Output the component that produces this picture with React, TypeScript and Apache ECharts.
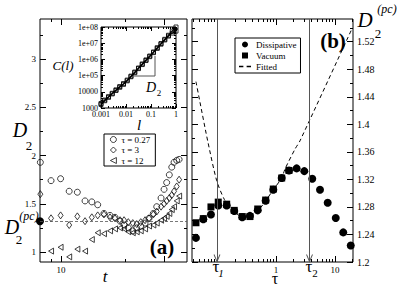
import React, { useEffect, useRef } from 'react';
import * as echarts from 'echarts';

const FONT = 'Liberation Serif';

// ---------- Panel (a): D2 versus t ----------
const tA = [6.3, 8.0, 9.9, 12.0, 14.4, 17.1, 19.9, 22.7, 26.1, 29.9, 33.4, 37.4, 40.9, 45.0, 49.7, 54.3, 59.4, 65.4, 71.5, 78.7, 84.9, 93.5, 100, 106, 112.5, 118.8, 125, 132.7, 140];
const d2Tau027 = [1.93, 1.74, 1.76, 1.63, 1.62, 1.53, 1.52, 1.49, 1.40, 1.38, 1.36, 1.32, 1.28, 1.25, 1.22, 1.25, 1.27, 1.30, 1.35, 1.40, 1.47, 1.56, 1.65, 1.72, 1.80, 1.88, 1.93, 1.95, 1.96];
const d2Tau3 = [1.60, 1.35, 1.38, 1.28, 1.37, 1.32, 1.36, 1.38, 1.39, 1.36, 1.35, 1.33, 1.33, 1.31, 1.30, 1.29, 1.31, 1.33, 1.35, 1.39, 1.42, 1.47, 1.50, 1.53, 1.56, 1.59, 1.63, 1.68, 1.75];
const d2Tau12 = [null, 1.01, 1.05, 0.95, 1.03, 1.01, 1.13, 1.20, 1.19, 1.22, 1.24, 1.25, 1.24, 1.21, 1.20, 1.21, 1.22, 1.24, 1.27, 1.28, 1.30, 1.33, 1.35, 1.37, 1.40, 1.44, 1.47, 1.53, 1.58];
const d2pc = 1.32;
const legendA = ['τ = 0.27', 'τ = 3', 'τ = 12'];

// ---------- Panel (b): D2(pc) versus tau ----------
const tauB = [0.044, 0.0586, 0.079, 0.105, 0.146, 0.196, 0.268, 0.362, 0.49, 0.668, 0.9, 1.25, 1.66, 2.24, 3.02, 4.12, 5.57, 7.52, 10.3, 13.8, 18.5];
const dissipative = [1.235, 1.262, 1.269, 1.282, 1.282, 1.274, 1.265, 1.267, 1.275, 1.289, 1.305, 1.322, 1.333, 1.336, 1.332, 1.321, 1.305, 1.286, 1.264, 1.243, 1.224];
const vacuum = [1.257, 1.263, 1.280, 1.287, 1.284, 1.275, 1.266, 1.266, 1.277, 1.290, 1.306, 1.322, 1.333];
const fitTau = [0.044, 0.0515, 0.0703, 0.0989, 0.133, 0.18, 0.27, 0.36, 0.49, 0.67, 0.9, 1.25, 1.42, 2.1, 2.55, 19.2];
const fitD = [1.462, 1.432, 1.374, 1.318, 1.291, 1.275, 1.266, 1.266, 1.274, 1.289, 1.305, 1.322, 1.335, 1.364, 1.376, 1.538];
const tau1 = 0.1;
const tau2 = 3.7;
const legendB = ['Dissipative', 'Vacuum', 'Fitted'];

// ---------- Inset: C(l) versus l ----------
const lInset = [0.001, 0.00141, 0.002, 0.00282, 0.00398, 0.00562, 0.00794, 0.0112, 0.0158, 0.0224, 0.0316, 0.0447, 0.0631, 0.0891, 0.126, 0.178, 0.251, 0.355, 0.501, 0.708, 1];
const cUpper = [1900, 3100, 5000, 8100, 13200, 21000, 32000, 53000, 93000, 166000, 295000, 525000, 930000, 1620000, 2880000, 5250000, 9550000, 17400000, 30900000, 55000000, 100000000];
const cLower = [1650, 2800, 4550, 7400, 12000, 19000, 28800, 47500, 85000, 150000, 270000, 480000, 850000, 1480000, 2620000, 4800000, 8700000, 15800000, 27500000, 42000000, 56000000];

// ---------- Axis ranges and ticks ----------
const A_X = [6.25, 167];
const A_Y = [0.897, 3.415];
const B_X = [0.0377, 20.2];
const B_Y = [1.2, 1.553];
const C_X = [0.001, 1];
const C_Y = [1000, 1e8];

const aXMajor = [10, 100];
const aXMinor = [8, 42];
const aXLabels = [10];
const aXLabelText = ['10'];
const aYMajor = [1, 1.5, 2, 2.5, 3];
const aYMinor = [1.25, 1.75, 2.25, 2.75, 3.25];
const aYLabelText = ['1', '1.5', '2', '2.5', '3'];

const bXMajor = [0.1, 1, 10];
const bXLabels = [1, 10];
const bXLabelText = ['1', '10'];
const bYMajor = [1.2, 1.24, 1.28, 1.32, 1.36, 1.4, 1.44, 1.48, 1.52];
const bYMinor = [1.22, 1.26, 1.3, 1.34, 1.38, 1.42, 1.46, 1.5, 1.54];
const bYLabelText = ['1.2', '1.24', '1.28', '1.32', '1.36', '1.4', '1.44', '1.48', '1.52'];

const cXMajor = [0.001, 0.01, 0.1, 1];
const cXLabelText = ['0.001', '0.01', '0.1', '1'];
const cYMajor = [1000, 10000, 1e5, 1e6, 1e7, 1e8];
const cYLabelText = ['1000', '10000', '1e+05', '1e+06', '1e+07', '1e+08'];

const minorLog = (lo: number, hi: number) => {
  const out: number[] = [];
  for (let e = -4; e <= 8; e++) for (let k = 2; k <= 9; k++) {
    const v = k * Math.pow(10, e);
    if (v > lo && v < hi) out.push(v);
  }
  return out;
};

const L = (v: number) => Math.log10(v);

function tickAxis(grid: number, position: string, range: number[], ticks: number[], len: number,
  label?: { values: number[]; text: string[]; size: number; margin: number }) {
  return {
    type: 'value', gridIndex: grid, position, min: range[0], max: range[1],
    axisLine: { show: false, onZero: false },
    splitLine: { show: false },
    axisTick: { show: true, inside: true, length: len, customValues: ticks, lineStyle: { color: '#000', width: 1 } },
    axisLabel: label ? {
      show: true, customValues: label.values, fontSize: label.size, margin: label.margin, color: '#000', fontFamily: FONT,
      formatter: (v: number) => {
        const i = label.values.findIndex(u => Math.abs(u - v) < 1e-6);
        return i >= 0 ? label.text[i] : '';
      },
    } : { show: false },
  };
}

const logAxis = (grid: number, range: number[]) => ({ type: 'log', gridIndex: grid, min: range[0], max: range[1], show: false });

export default function App() {
  const ref = useRef<HTMLDivElement>(null);
  useEffect(() => {
    if (!ref.current) return;
    const chart = echarts.init(ref.current, undefined, { renderer: 'svg' });

    const aXr = A_X.map(L), bXr = B_X.map(L), cXr = C_X.map(L), cYr = C_Y.map(L);
    const xAxis = [
      logAxis(0, A_X),
      tickAxis(0, 'bottom', aXr, aXMajor.map(L), 6, { values: aXLabels.map(L), text: aXLabelText, size: 9, margin: 3 }),
      tickAxis(0, 'bottom', aXr, aXMinor.map(L), 3),
      tickAxis(0, 'top', aXr, aXMajor.map(L), 6),
      tickAxis(0, 'top', aXr, aXMinor.map(L), 3),
      logAxis(1, B_X),
      tickAxis(1, 'bottom', bXr, bXMajor.map(L), 6, { values: bXLabels.map(L), text: bXLabelText, size: 9, margin: 3 }),
      tickAxis(1, 'bottom', bXr, minorLog(B_X[0], B_X[1]).map(L), 3),
      tickAxis(1, 'top', bXr, bXMajor.map(L), 6),
      tickAxis(1, 'top', bXr, minorLog(B_X[0], B_X[1]).map(L), 3),
      logAxis(2, C_X),
      tickAxis(2, 'bottom', cXr, cXMajor.map(L), 4, { values: cXMajor.map(L), text: cXLabelText, size: 8, margin: 2 }),
      tickAxis(2, 'bottom', cXr, minorLog(C_X[0], C_X[1]).map(L), 2),
      tickAxis(2, 'top', cXr, cXMajor.map(L), 4),
      tickAxis(2, 'top', cXr, minorLog(C_X[0], C_X[1]).map(L), 2),
    ];
    const yAxis = [
      tickAxis(0, 'left', A_Y, aYMajor, 6, { values: aYMajor, text: aYLabelText, size: 9, margin: 4 }),
      tickAxis(0, 'left', A_Y, aYMinor, 3),
      tickAxis(0, 'right', A_Y, aYMajor, 6),
      tickAxis(0, 'right', A_Y, aYMinor, 3),
      tickAxis(1, 'right', B_Y, bYMajor, 6, { values: bYMajor, text: bYLabelText, size: 10, margin: 4 }),
      tickAxis(1, 'right', B_Y, bYMinor, 3),
      tickAxis(1, 'left', B_Y, bYMajor, 6),
      tickAxis(1, 'left', B_Y, bYMinor, 3),
      logAxis(2, C_Y),
      tickAxis(2, 'left', cYr, cYMajor.map(L), 4, { values: cYMajor.map(L), text: cYLabelText, size: 8, margin: 3 }),
      tickAxis(2, 'left', cYr, minorLog(C_Y[0], C_Y[1]).map(L), 2),
      tickAxis(2, 'right', cYr, cYMajor.map(L), 4),
      tickAxis(2, 'right', cYr, minorLog(C_Y[0], C_Y[1]).map(L), 2),
    ];

    const hollow = { color: 'rgba(0,0,0,0)', borderColor: '#111', borderWidth: 0.8, opacity: 1 };
    const solid = { color: '#000', opacity: 1 };
    const pairs = (xs: number[], ys: (number | null)[]) =>
      xs.map((x, i) => [x, ys[i]]).filter(p => p[1] !== null && p[1] !== undefined);
    const triLeft = 'path://M10 0L0 5L10 10Z';

    const series: any[] = [
      { name: legendA[0], type: 'scatter', xAxisIndex: 0, yAxisIndex: 0, symbol: 'circle', symbolSize: 6, itemStyle: hollow, data: pairs(tA, d2Tau027), clip: false },
      { name: legendA[1], type: 'scatter', xAxisIndex: 0, yAxisIndex: 0, symbol: 'diamond', symbolSize: [5, 7], itemStyle: hollow, data: pairs(tA, d2Tau3), clip: false },
      { name: legendA[2], type: 'scatter', xAxisIndex: 0, yAxisIndex: 0, symbol: triLeft, symbolSize: [5, 6], itemStyle: hollow, data: pairs(tA, d2Tau12), clip: false },
      {
        name: 'pc', type: 'scatter', xAxisIndex: 0, yAxisIndex: 0, symbol: 'circle', symbolSize: 8,
        itemStyle: solid, data: [[A_X[0], d2pc]], clip: false, z: 3,
        markLine: {
          silent: true, symbol: ['none', 'none'], label: { show: false },
          lineStyle: { color: '#555', width: 0.8, type: [3, 2] }, data: [{ yAxis: d2pc }],
        },
      },
      { name: legendB[1], type: 'scatter', xAxisIndex: 5, yAxisIndex: 4, symbol: 'path://M0 0H10V10H0Z', symbolSize: 7, itemStyle: solid, data: pairs(tauB.slice(0, vacuum.length), vacuum), clip: false },
      {
        name: legendB[0], type: 'scatter', xAxisIndex: 5, yAxisIndex: 4, symbol: 'circle', symbolSize: 8, itemStyle: solid, data: pairs(tauB, dissipative), clip: false,
        markLine: {
          silent: true, symbol: ['none', 'none'], label: { show: false },
          lineStyle: { color: '#555', width: 1, type: 'solid' }, data: [{ xAxis: tau1 }, { xAxis: tau2 }],
        },
        markPoint: {
          silent: true, symbol: 'path://M0 0L5 10L10 0', symbolSize: [6, 7], symbolOffset: [0, -4],
          label: { show: false }, itemStyle: { color: 'none', borderColor: '#555', borderWidth: 1 },
          data: [{ coord: [tau1, B_Y[0]] }, { coord: [tau2, B_Y[0]] }],
        },
      },
      { name: legendB[2], type: 'line', xAxisIndex: 5, yAxisIndex: 4, symbol: 'none', smooth: 0.25, lineStyle: { color: '#000', width: 1, type: [4, 3] }, itemStyle: { color: '#000' }, data: pairs(fitTau, fitD) },
      { name: 'C upper', type: 'line', xAxisIndex: 10, yAxisIndex: 8, symbol: 'rect', symbolSize: 4, showAllSymbol: true, itemStyle: { color: 'rgba(0,0,0,0)', borderColor: '#000', borderWidth: 0.8 }, lineStyle: { color: '#000', width: 1.2 }, data: pairs(lInset, cUpper), clip: false },
      { name: 'C lower', type: 'line', xAxisIndex: 10, yAxisIndex: 8, symbol: 'rect', symbolSize: 4, showAllSymbol: true, itemStyle: { color: 'rgba(0,0,0,0)', borderColor: '#000', borderWidth: 0.8 }, lineStyle: { color: '#000', width: 1.2 }, data: pairs(lInset, cLower), clip: false },
    ];

    const txt = (x: number, y: number, text: string, font: string) => ({
      type: 'text', x, y, z: 100, silent: true,
      style: { text, font: `${font} ${FONT}`, fill: '#000', align: 'center', verticalAlign: 'middle' },
    });
    const seg = (x1: number, y1: number, x2: number, y2: number) => ({
      type: 'line', z: 100, silent: true, shape: { x1, y1, x2, y2 }, style: { stroke: '#555', lineWidth: 1 },
    });

    chart.setOption({
      animation: false,
      backgroundColor: '#fff',
      textStyle: { fontFamily: FONT, color: '#000' },
      grid: [
        { left: 40, top: 19, width: 147, height: 243, show: true, borderColor: '#000', borderWidth: 1, backgroundColor: 'rgba(0,0,0,0)' },
        { left: 192, top: 19, width: 161, height: 243, show: true, borderColor: '#000', borderWidth: 1, backgroundColor: 'rgba(0,0,0,0)' },
        { left: 101, top: 27, width: 75, height: 81, show: true, borderColor: '#000', borderWidth: 1, backgroundColor: '#fff' },
      ],
      xAxis, yAxis, series,
      legend: [
        {
          data: [
            { name: legendA[0], icon: 'circle' },
            { name: legendA[1], icon: 'diamond' },
            { name: legendA[2], icon: triLeft },
          ],
          left: 104, top: 134, orient: 'vertical', itemWidth: 6, itemHeight: 6, itemGap: 1.5,
          padding: [1, 5, 1, 6], borderColor: '#000', borderWidth: 1, backgroundColor: '#fff', selectedMode: false,
          itemStyle: { color: 'rgba(0,0,0,0)', borderColor: '#111', borderWidth: 0.8 },
          textStyle: { fontSize: 9, lineHeight: 9, fontFamily: FONT, color: '#000' },
        },
        {
          data: [
            { name: legendB[0], icon: 'circle' },
            { name: legendB[1], icon: 'path://M0 0H10V10H0Z' },
            { name: legendB[2], icon: 'path://M0 4H4V5.5H0Z M7 4H11V5.5H7Z' },
          ],
          left: 235, top: 38, orient: 'vertical', itemWidth: 12, itemHeight: 6, itemGap: 2,
          padding: [2, 4, 2, 4], borderColor: '#000', borderWidth: 1, backgroundColor: '#fff', selectedMode: false,
          itemStyle: { color: '#000', opacity: 1, borderWidth: 0 },
          textStyle: { fontSize: 9, lineHeight: 9, fontFamily: FONT, color: '#000' },
        },
      ],
      graphic: {
        elements: [
          txt(20, 130, 'D', 'italic 20px'),
          txt(29, 145, '2', '13px'),
          txt(12, 227, 'D', 'italic 20px'),
          txt(19, 239, '2', '13px'),
          txt(29, 216, '(pc)', 'italic 12px'),
          txt(162, 247, '(a)', 'bold 21px'),
          txt(105, 276, 't', 'italic 17px'),
          txt(63, 65, 'C(l)', 'italic 13px'),
          txt(139, 125, 'l', 'italic 15px'),
          txt(151, 87, 'D', 'italic 14px'),
          txt(159, 93, '2', '9px'),
          seg(134, 76, 155, 76),
          seg(155, 56, 155, 76),
          txt(365, 20, 'D', 'italic 21px'),
          txt(378, 33, '2', '13px'),
          txt(387, 9, '(pc)', 'italic 12px'),
          txt(333, 41, '(b)', 'bold 21px'),
          txt(216, 266, 'τ', '17px'),
          txt(221, 273, '1', 'italic 11px'),
          txt(275, 278, 'τ', '16px'),
          txt(309, 266, 'τ', '17px'),
          txt(315, 273, '2', '11px'),
        ],
      },
    });
    return () => chart.dispose();
  }, []);
  return <div ref={ref} style={{ position: 'fixed', left: 0, top: 0, width: 399, height: 286, background: '#fff' }} />;
}
